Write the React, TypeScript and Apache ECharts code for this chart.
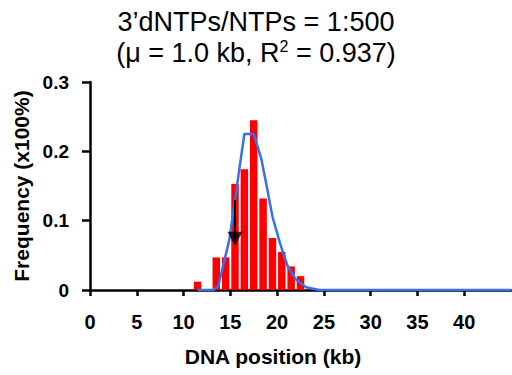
import React, { useEffect, useRef } from "react";
import * as echarts from "echarts";

const binCenters = [11.5, 13.5, 14.5, 15.5, 16.5, 17.5, 18.5, 19.5, 20.5, 21.5, 22.5];
const binFreq = [0.012, 0.047, 0.047, 0.153, 0.174, 0.245, 0.132, 0.075, 0.055, 0.034, 0.02];

const fitX = [11.5, 13.2, 13.7, 14.9, 15.5, 16.0, 16.5, 17.5, 18.3, 18.9, 19.5, 20.3, 21.1, 22.0, 23.1, 24.5, 45];
const fitY = [0, 0, 0.005, 0.073, 0.13, 0.178, 0.225, 0.225, 0.19, 0.149, 0.106, 0.068, 0.035, 0.015, 0.004, 0, 0];

const arrowX = 15.5;
const arrowTop = 0.13;
const arrowHead = 0.074;

const FONT = "'Liberation Sans', Arial, Helvetica, sans-serif";

export default function App() {
  const ref = useRef<HTMLDivElement>(null);
  useEffect(() => {
    if (!ref.current) return;
    const chart = echarts.init(ref.current, undefined, { renderer: "svg" });
    chart.setOption({
      animation: false,
      backgroundColor: "#ffffff",
      title: {
        left: "center",
        top: 6,
        padding: [0, 0, 0, 14],
        text: "3’dNTPs/NTPs = 1:500\n(μ = 1.0 kb, R{s|2} = 0.937)",
        textStyle: {
          fontFamily: FONT,
          fontSize: 27,
          fontWeight: "normal",
          color: "#000",
          lineHeight: 31,
          rich: {
            s: { fontFamily: FONT, fontSize: 16, color: "#000", padding: [0, 0, 12, 0] },
          },
        },
      },
      grid: { left: 90, right: 1, top: 82, bottom: 85, containLabel: false },
      xAxis: {
        type: "value",
        min: 0,
        max: 45,
        interval: 5,
        axisLine: { show: true, onZero: false, lineStyle: { color: "#000", width: 2.5 } },
        axisTick: { show: true, length: 6, lineStyle: { color: "#000", width: 2.5 } },
        splitLine: { show: false },
        axisLabel: {
          showMaxLabel: false,
          margin: 22,
          fontFamily: FONT,
          fontWeight: "bold",
          fontSize: 20,
          color: "#000",
        },
      },
      yAxis: {
        type: "value",
        min: 0,
        max: 0.3,
        interval: 0.1,
        name: "Frequency (x100%)",
        nameLocation: "middle",
        nameGap: 54,
        nameTextStyle: { fontFamily: FONT, fontWeight: "bold", fontSize: 21, color: "#000" },
        axisLine: { show: true, lineStyle: { color: "#000", width: 2.5 } },
        axisTick: { show: true, length: 8, lineStyle: { color: "#000", width: 2.5 } },
        splitLine: { show: false },
        axisLabel: {
          margin: 21,
          fontFamily: FONT,
          fontWeight: "bold",
          fontSize: 19,
          color: "#000",
        },
      },
      graphic: [
        {
          type: "text",
          x: 273,
          y: 356,
          style: {
            text: "DNA position (kb)",
            textAlign: "center",
            textVerticalAlign: "middle",
            fontFamily: FONT,
            fontWeight: "bold",
            fontSize: 21,
            fill: "#000",
          },
          z: 10,
        },
      ],
      series: [
        {
          type: "bar",
          data: binCenters.map((x, i) => [x, binFreq[i]]),
          barWidth: 7.5,
          itemStyle: { color: "#ff0000" },
          z: 2,
        },
        {
          type: "line",
          data: fitX.map((x, i) => [x, fitY[i]]),
          showSymbol: false,
          symbol: "none",
          lineStyle: { color: "#3a6ef0", width: 2.5 },
          z: 3,
        },
        {
          type: "line",
          data: [
            [arrowX, arrowTop],
            [arrowX, arrowHead],
          ],
          symbol: "none",
          lineStyle: { color: "#000", width: 2 },
          z: 4,
        },
        {
          type: "scatter",
          data: [[arrowX, arrowHead]],
          symbol: "triangle",
          symbolRotate: 180,
          symbolSize: [15, 14],
          itemStyle: { color: "#000" },
          z: 5,
        },
      ],
    });
    return () => chart.dispose();
  }, []);
  return (
    <div
      ref={ref}
      style={{ position: "fixed", left: 0, top: 0, width: 512, height: 375 }}
    />
  );
}
